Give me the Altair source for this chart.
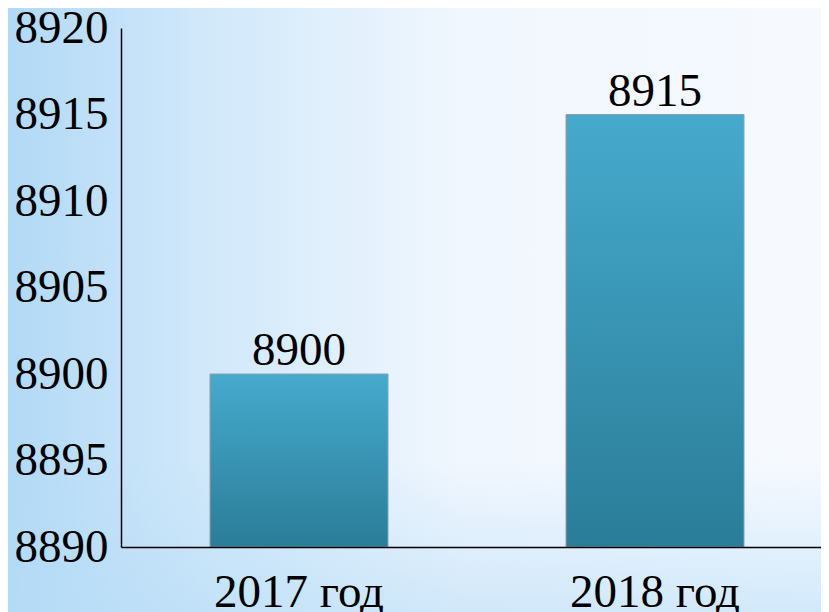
import altair as alt
import pandas as pd

years = ["2017 год", "2018 год"]
values = [8900, 8915]
y_ticks = [8890, 8895, 8900, 8905, 8910, 8915, 8920]

df = pd.DataFrame({"year": years, "value": values})

FONT = "Liberation Serif"
W, H = 700, 519
PAD_L, PAD_T, PAD_B = 113, 20, 65

bg_h = {
    "gradient": "linear", "x1": 0, "y1": 0.5, "x2": 1, "y2": 0.5,
    "stops": [
        {"offset": 0, "color": "#b2d9f6"},
        {"offset": 0.25, "color": "#d2e9fa"},
        {"offset": 0.55, "color": "#f1f7fe"},
        {"offset": 1, "color": "#f6faff"},
    ],
}
bg_v = {
    "gradient": "linear", "x1": 0.5, "y1": 0, "x2": 0.5, "y2": 1,
    "stops": [
        {"offset": 0, "color": "rgba(182,220,247,0)"},
        {"offset": 0.75, "color": "rgba(182,220,247,0)"},
        {"offset": 1, "color": "rgba(182,220,247,0.55)"},
    ],
}
bar_grad = {
    "gradient": "linear", "x1": 0, "y1": 0, "x2": 0, "y2": 1,
    "stops": [
        {"offset": 0, "color": "#46aacd"},
        {"offset": 1, "color": "#2a7d98"},
    ],
}

one = alt.Data(values=[{"a": 1}])
bg1 = alt.Chart(one).mark_rect(fill=bg_h, strokeWidth=0).encode(
    x=alt.value(-PAD_L), x2=alt.value(W + 16), y=alt.value(-PAD_T), y2=alt.value(H + PAD_B)
)
bg2 = alt.Chart(one).mark_rect(fill=bg_v, strokeWidth=0).encode(
    x=alt.value(-PAD_L), x2=alt.value(W + 16), y=alt.value(-PAD_T), y2=alt.value(H + PAD_B)
)

x_enc = alt.X(
    "year:N",
    sort=years,
    scale=alt.Scale(range=[0, 712], paddingInner=0.5, paddingOuter=0.25),
    axis=alt.Axis(
        title=None, labelAngle=0, labelFont=FONT, labelFontSize=47, labelColor="black",
        ticks=False, labelPadding=22, domainColor="black", domainWidth=1.5, zindex=1,
    ),
)
y_enc = alt.Y(
    "value:Q",
    scale=alt.Scale(domain=[8890, 8920], nice=False, zero=False),
    axis=alt.Axis(
        title=None, values=y_ticks, labelFont=FONT, labelFontSize=47, labelColor="black",
        ticks=False, grid=False, labelPadding=13, labelFlush=False, labelOverlap=False,
        labelBound=False, domainColor="black", domainWidth=1.5, format="d", zindex=1,
    ),
)

bars = alt.Chart(df).mark_bar(fill=bar_grad, stroke="#8fa0ab", strokeWidth=1).encode(
    x=x_enc, y=y_enc, y2=alt.datum(8890)
)
labels = alt.Chart(df).mark_text(
    font=FONT, fontSize=47, color="black", baseline="alphabetic", dy=-9
).encode(x=alt.X("year:N", sort=years), y="value:Q", text=alt.Text("value:Q", format="d"))

chart = alt.layer(bg1, bg2, bars, labels).properties(
    width=W, height=H,
    autosize=alt.AutoSizeParams(type="none"),
    padding={"left": PAD_L, "top": PAD_T, "right": 0, "bottom": PAD_B},
).configure_view(stroke=None).configure(background="#f6faff")

chart.save("out.html", embed_options={"renderer": "svg", "actions": False})
